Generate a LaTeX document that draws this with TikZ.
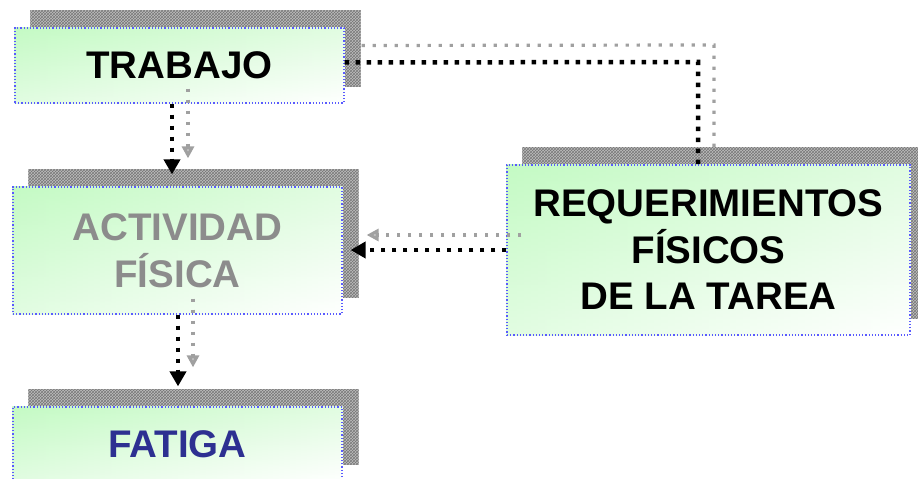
\documentclass[tikz,border=0pt]{standalone}
\usepackage{fontspec}
\setmainfont{Liberation Sans}
\usetikzlibrary{arrows.meta,calc,backgrounds,patterns}
\definecolor{boxgreen}{RGB}{196,250,196}
\definecolor{bordblue}{RGB}{90,90,255}
\definecolor{shadowgray}{RGB}{190,190,190}
\definecolor{meshgray}{RGB}{120,120,120}
\definecolor{txtgray}{RGB}{140,140,140}
\definecolor{txtblue}{RGB}{45,48,145}
\definecolor{arrgray}{RGB}{160,160,160}
\begin{document}
\begin{tikzpicture}[x=1pt,y=1pt,
  box/.style={rectangle, draw=bordblue, line width=1.2pt, dotted,
    font=\fontsize{38.5}{46.5}\selectfont\bfseries, align=center, inner sep=0pt},
  shadowbox/.style={fill=shadowgray},
  meshbox/.style={pattern=crosshatch, pattern color=meshgray},
  shadeh/.style={left color=boxgreen, right color=white},
  shadev/.style={top color=boxgreen, bottom color=white, fill opacity=0.5},
  blk/.style={line width=4.5pt, dash pattern=on 4.5pt off 6.5pt},
  blkarrow/.style={blk, -{Triangle[width=16pt,length=15pt]}},
  gry/.style={line width=3.2pt, arrgray, dash pattern=on 3.2pt off 7.8pt},
  gryarrow/.style={gry, -{Triangle[width=12pt,length=12pt,color=arrgray,fill=arrgray!60]}}]
\useasboundingbox (0,0) rectangle (918,479);
\node[box, minimum width=329pt, minimum height=75pt] (trab) at (179.5,413.5) {TRABAJO};
\node[box, text=txtgray, minimum width=329pt, minimum height=127pt] (act) at (177.5,228.5) {ACTIVIDAD\\FÍSICA};
\node[box, text=txtblue, minimum width=329pt, minimum height=74pt] (fat) at (177.5,35) {FATIGA};
\node[box, minimum width=403pt, minimum height=170pt] (req) at (708.5,229) {REQUERIMIENTOS\\FÍSICOS\\DE LA TAREA};
\begin{scope}[on background layer]
  \foreach \n in {trab,act,fat,req}{
    \fill[shadowbox] ($(\n.south west)+(16,17)$) rectangle ($(\n.north east)+(16,17)$);
    \fill[meshbox] ($(\n.south west)+(16,17)$) rectangle ($(\n.north east)+(16,17)$);
    \shade[shadeh] (\n.south west) rectangle (\n.north east);
    \shade[shadev] (\n.south west) rectangle (\n.north east);
  }
\end{scope}
\coordinate (k1) at (698,417);
\coordinate (k2) at (714,434);
% gray shadow connectors
\draw[gryarrow] ($(trab.south -| 188,0)+(0,15)$) -- ($(act.north -| 188,0)+(0,28)$);
\draw[gryarrow] ($(act.south -| 193,0)+(0,16)$) -- ($(fat.north -| 193,0)+(0,39)$);
\draw[gryarrow] ($(req.west)+(15,15)$) -- ($(act.east |- req.west)+(24,15)$);
\draw[gry] ($(trab.east)+(17,20)$) -- (k2) -- ($(k2 |- req.north)+(0,17)$);
% black connectors
\draw[blkarrow] (trab.south -| 172,0) -- ($(act.north -| 172,0)+(0,12)$);
\draw[blkarrow] (act.south -| 178,0) -- ($(fat.north -| 178,0)+(0,20)$);
\draw[blkarrow] (req.west) -- ($(act.east |- req.west)+(8,0)$);
\draw[blk] ($(trab.east)+(0,3)$) -- (k1) -- (k1 |- req.north);
\end{tikzpicture}
\end{document}
